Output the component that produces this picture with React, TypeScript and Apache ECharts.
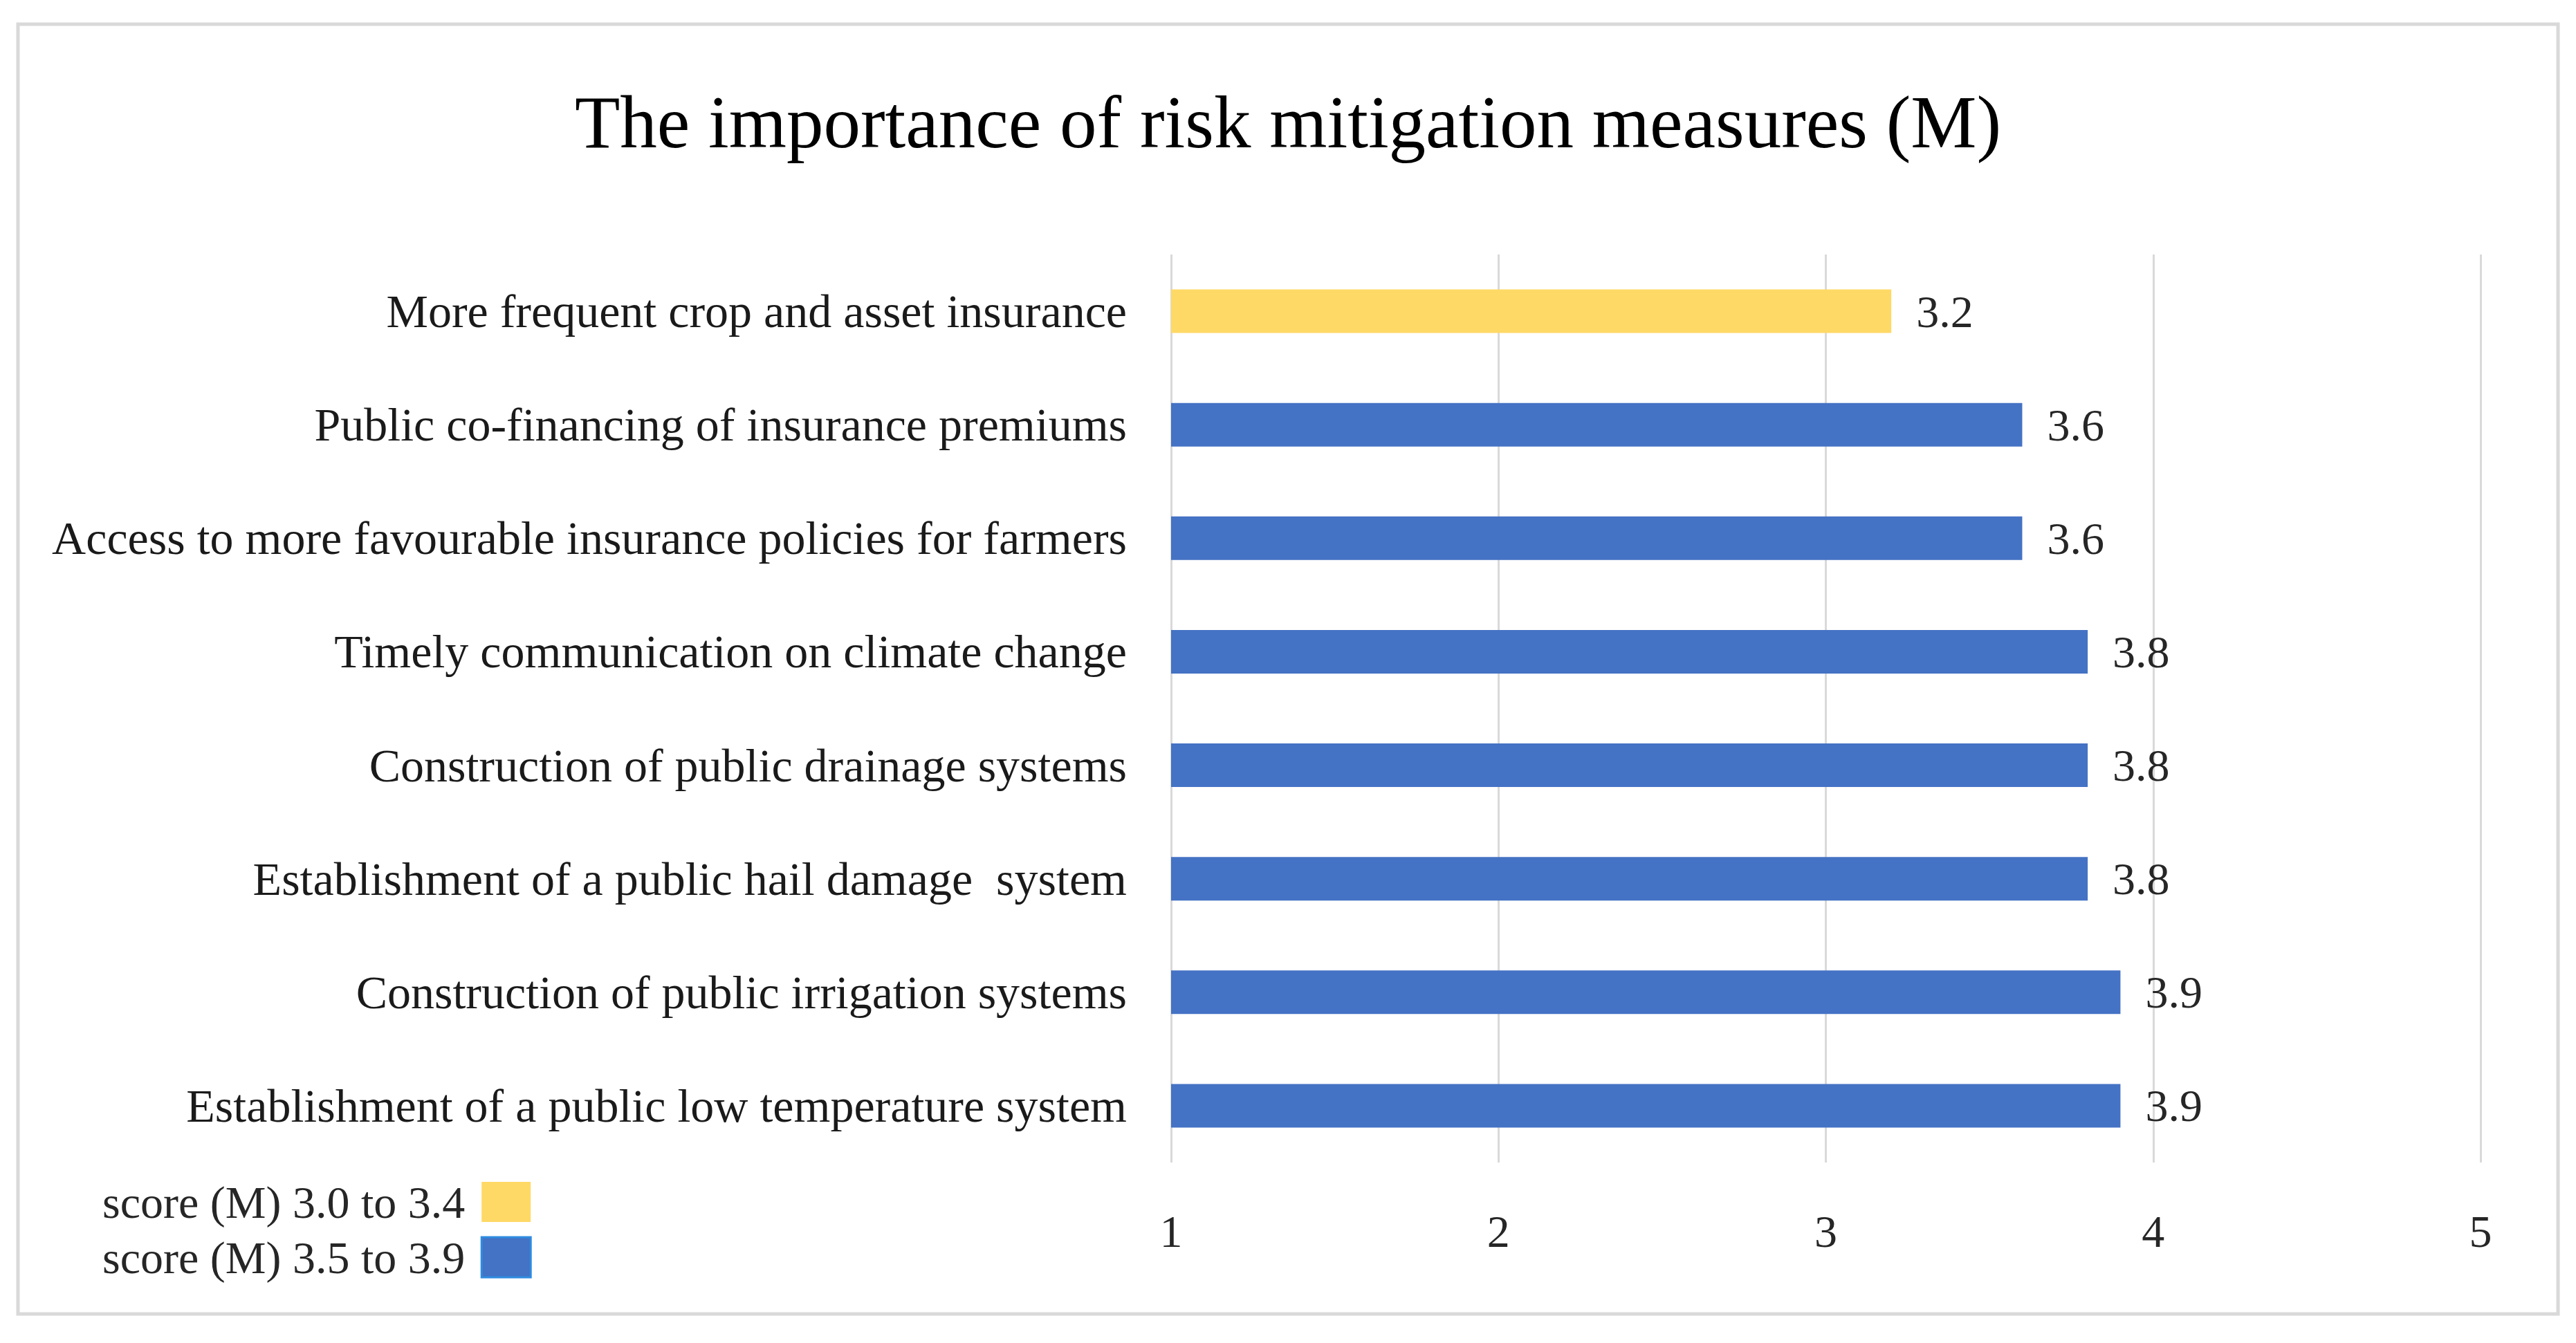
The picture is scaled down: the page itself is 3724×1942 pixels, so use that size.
import React, { useEffect, useRef } from "react";
import * as echarts from "echarts";

const categories = [
  "More frequent crop and asset insurance",
  "Public co-financing of insurance premiums",
  "Access to more favourable insurance policies for farmers",
  "Timely communication on climate change",
  "Construction of public drainage systems",
  "Establishment of a public hail damage  system",
  "Construction of public irrigation systems",
  "Establishment of a public low temperature system",
];
const scores = [3.2, 3.6, 3.6, 3.8, 3.8, 3.8, 3.9, 3.9];
const groupNames = ["score (M) 3.0 to 3.4", "score (M) 3.5 to 3.9"];
const lowGroup = scores.map((v) => (v < 3.45 ? v : "-"));
const highGroup = scores.map((v) => (v >= 3.45 ? v : "-"));
const xTicks = [1, 2, 3, 4, 5];

const FONT = "'Liberation Serif', 'DejaVu Serif', serif";
const YELLOW = "#FFD966";
const BLUE = "#4472C4";

export default function App() {
  const ref = useRef<HTMLDivElement>(null);
  useEffect(() => {
    if (!ref.current) return;
    const chart = echarts.init(ref.current, null, { renderer: "svg" });
    const labelStyle = {
      show: true,
      position: "right",
      distance: 36,
      fontFamily: FONT,
      fontSize: 66,
      color: "#262626",
    };
    chart.setOption({
      animation: false,
      backgroundColor: "#ffffff",
      title: {
        text: "The importance of risk mitigation measures (M)",
        left: "center",
        top: 118,
        textStyle: { fontFamily: FONT, fontSize: 107, fontWeight: "normal", color: "#000" },
      },
      graphic: [
        {
          type: "rect",
          shape: { x: 26, y: 35, width: 3672, height: 1865 },
          style: { fill: "none", stroke: "#d9d9d9", lineWidth: 5 },
          silent: true,
        },
      ],
      legend: {
        orient: "vertical",
        left: 143,
        top: 1700,
        align: "right",
        itemWidth: 71,
        itemHeight: 58,
        itemGap: 14,
        icon: "rect",
        textStyle: { fontFamily: FONT, fontSize: 66, color: "#262626", padding: [0, 19, 0, 0] },
        data: [
          { name: groupNames[0], itemStyle: { color: YELLOW } },
          { name: groupNames[1], itemStyle: { color: BLUE, borderColor: "#2E8BE0", borderWidth: 3 } },
        ],
      },
      grid: { left: 1693, right: 138, top: 368, bottom: 261, containLabel: false },
      xAxis: {
        type: "value",
        min: xTicks[0],
        max: xTicks[xTicks.length - 1],
        interval: 1,
        axisLine: { show: false },
        axisTick: { show: false },
        splitLine: { show: true, lineStyle: { color: "#d9d9d9", width: 3 } },
        axisLabel: { margin: 66, fontFamily: FONT, fontSize: 66, color: "#262626" },
      },
      yAxis: {
        type: "category",
        inverse: true,
        data: categories,
        axisLine: { show: false },
        axisTick: { show: false },
        axisLabel: { margin: 64, fontFamily: FONT, fontSize: 68, color: "#1a1a1a" },
      },
      series: [
        {
          name: groupNames[0],
          type: "bar",
          stack: "s",
          barWidth: 63,
          data: lowGroup,
          itemStyle: { color: YELLOW },
          label: labelStyle,
        },
        {
          name: groupNames[1],
          type: "bar",
          stack: "s",
          barWidth: 63,
          data: highGroup,
          itemStyle: { color: BLUE },
          label: labelStyle,
        },
      ],
    });
    return () => chart.dispose();
  }, []);
  return (
    <div
      ref={ref}
      style={{ position: "absolute", left: 0, top: 0, width: 3724, height: 1942 }}
    />
  );
}
